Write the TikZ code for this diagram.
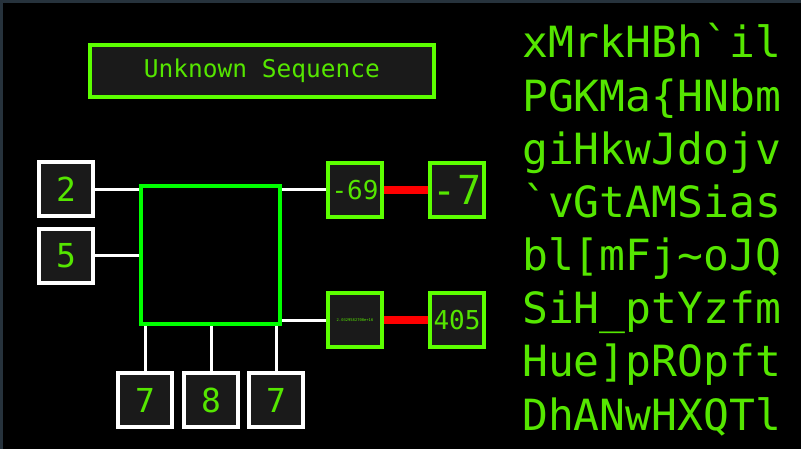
\documentclass[tikz,border=0pt]{standalone}
\usepackage{fontspec}
\setmonofont{DejaVu Sans Mono}
\definecolor{txtgreen}{HTML}{55E600}
\definecolor{limeb}{HTML}{5CFF00}
\definecolor{coregreen}{HTML}{00FF00}
\definecolor{boxfill}{HTML}{1A1A1A}
\definecolor{edgeband}{HTML}{26323C}
\tikzset{
  whitebox/.style={draw=white, line width=4pt, fill=boxfill, minimum width=54pt, minimum height=54pt, inner sep=0pt, text=txtgreen, font=\ttfamily\fontsize{33}{33}\selectfont},
  limebox/.style={draw=limeb, line width=4pt, fill=boxfill, minimum width=54pt, minimum height=54pt, inner sep=0pt, text=txtgreen},
  wire/.style={draw=white, line width=3pt},
  redwire/.style={draw=red, line width=8pt},
  seqline/.style={anchor=base west, inner sep=0pt, text=txtgreen, font=\ttfamily\fontsize{43}{43}\selectfont}
}
\begin{document}
\begin{tikzpicture}[x=1pt,y=-1pt]
\useasboundingbox (0,0) rectangle (801,449);
\fill[black] (0,0) rectangle (801,449);
\fill[edgeband] (0,0) rectangle (3,449);
\fill[edgeband] (0,0) rectangle (801,3);

% title
\node[limebox, minimum width=344pt, minimum height=52pt, font=\ttfamily\fontsize{24.5}{24.5}\selectfont] (title) at (262,71) {Unknown Sequence};

% core
\node[draw=coregreen, line width=4pt, minimum width=139pt, minimum height=138pt, inner sep=0pt] (core) at (210.5,255) {};

% inputs
\node[whitebox] (in1) at (66,189.5) {2};
\node[whitebox] (in2) at (66,256) {5};
\node[whitebox] (b1) at (145,400) {7};
\node[whitebox] (b2) at (211,400) {8};
\node[whitebox] (b3) at (276,400) {7};

% outputs
\node[limebox, font=\ttfamily\fontsize{26}{26}\selectfont] (m1) at (355,190) {-69};
\node[limebox, font=\ttfamily\fontsize{3.8}{3.8}\selectfont] (m2) at (355,320) {2.0329582700e+16};
\node[limebox, font=\ttfamily\fontsize{40}{40}\selectfont] (r1) at (457,190) {-7};
\node[limebox, font=\ttfamily\fontsize{26}{26}\selectfont] (r2) at (457,320) {405};

% wires
\draw[wire] (in1.east) -- (in1.east -| core.west);
\draw[wire] (in2.east) -- (in2.east -| core.west);
\draw[wire] (b1.north) -- (b1.north |- core.south);
\draw[wire] (b2.north) -- (b2.north |- core.south);
\draw[wire] (b3.north) -- (b3.north |- core.south);
\draw[wire] (m1.west -| core.east) -- (m1.west);
\draw[wire] (m2.west -| core.east) -- (m2.west);
\draw[redwire] (m1.east) -- (r1.west);
\draw[redwire] (m2.east) -- (r2.west);

% sequence text
\node[seqline] (t1) at (522,58) {xMrkHBh`il};
\node[seqline] (t2) at (522,111.1) {PGKMa\{HNbm};
\node[seqline] (t3) at (522,164.3) {giHkwJdojv};
\node[seqline] (t4) at (522,217.4) {`vGtAMSias};
\node[seqline] (t5) at (522,270.6) {bl[mFj\textasciitilde oJQ};
\node[seqline] (t6) at (522,323.7) {SiH\_ptYzfm};
\node[seqline] (t7) at (522,376.9) {Hue]pROpft};
\node[seqline] (t8) at (522,430) {DhANwHXQTl};
\end{tikzpicture}
\end{document}
